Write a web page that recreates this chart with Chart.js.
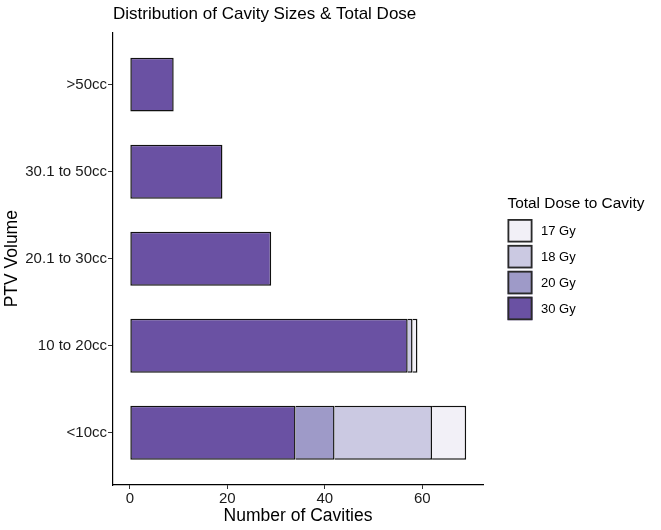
<!DOCTYPE html>
<html>
<head>
<meta charset="utf-8">
<script src="https://cdn.jsdelivr.net/npm/chart.js@4"></script>
<style>
  html, body { margin: 0; padding: 0; background: #ffffff; }
  #wrap { width: 661px; height: 530px; }
</style>
</head>
<body>
<div id="wrap"><canvas id="c" width="661" height="530"></canvas></div>
<script>
// Categories, bottom to top
const categories = ['<10cc', '10 to 20cc', '20.1 to 30cc', '30.1 to 50cc', '>50cc'];
// Series (Total Dose to Cavity), counts per category
const dose30 = [34, 57, 29, 19, 9];
const dose20 = [8, 0, 0, 0, 0];
const dose18 = [20, 1, 0, 0, 0];
const dose17 = [7, 1, 0, 0, 0];
const xTicks = [0, 20, 40, 60];
const seriesLabels = ['30 Gy', '20 Gy', '18 Gy', '17 Gy'];
const seriesColors = ['#6A51A3', '#9E9AC8', '#CBC9E2', '#F2F0F7'];

const seriesValues = [dose30, dose20, dose18, dose17];
const toPoints = vals => vals.map((v, i) => ({ x: v, y: i })).filter(p => p.x > 0);

const datasets = seriesValues.map((vals, k) => ({
  label: seriesLabels[k],
  data: toPoints(vals),
  backgroundColor: seriesColors[k],
  borderColor: '#111111',
  borderWidth: 1.5,
  borderSkipped: k === 0 ? false : 'start',
  categoryPercentage: 1,
  barPercentage: 0.62
}));

const FONT = 'Liberation Sans, Arial, Helvetica, sans-serif';

const legendPlugin = {
  id: 'customLegend',
  afterDraw(chart) {
    const ctx = chart.ctx;
    ctx.save();
    ctx.fillStyle = '#000000';
    ctx.font = '15.4px ' + FONT;
    ctx.textBaseline = 'middle';
    ctx.textAlign = 'left';
    ctx.fillText('Total Dose to Cavity', 507.5, 204);
    const order = [3, 2, 1, 0];
    const boxX = 507.5, boxTop = 219, w = 25, h = 23.5, step = 25.9;
    order.forEach((k, j) => {
      const y = boxTop + j * step;
      ctx.fillStyle = seriesColors[k];
      ctx.fillRect(boxX, y, w, h);
      ctx.strokeStyle = '#2a2a2a';
      ctx.lineWidth = 1.8;
      ctx.strokeRect(boxX + 0.9, y + 0.9, w - 1.8, h - 1.8);
      ctx.fillStyle = '#000000';
      ctx.font = '13px ' + FONT;
      ctx.fillText(seriesLabels[k], 541, y + h / 2 + 0.5);
    });
    ctx.restore();
  }
};

new Chart(document.getElementById('c'), {
  type: 'bar',
  data: { datasets },
  plugins: [legendPlugin],
  options: {
    indexAxis: 'y',
    responsive: false,
    animation: false,
    devicePixelRatio: 1,
    layout: { padding: { left: 0, right: 178, top: 0, bottom: 0 } },
    plugins: {
      legend: { display: false },
      tooltip: { enabled: false },
      title: {
        display: true,
        text: 'Distribution of Cavity Sizes & Total Dose',
        align: 'start',
        fullSize: false,
        color: '#000000',
        font: { family: FONT, size: 17, weight: 'normal' },
        padding: { top: 4, bottom: 8 }
      }
    },
    scales: {
      x: {
        type: 'linear',
        stacked: true,
        offset: false,
        min: -3.45,
        max: 72.45,
        afterFit(scale) { scale.height = 45; },
        afterBuildTicks(scale) { scale.ticks = xTicks.map(v => ({ value: v })); },
        ticks: {
          includeBounds: false,
          color: '#1a1a1a',
          font: { family: FONT, size: 15 },
          padding: 1
        },
        grid: { display: true, offset: false, drawOnChartArea: false, drawTicks: true, tickLength: 4, color: '#333333', lineWidth: 1 },
        border: { display: true, color: '#000000', width: 1.2 },
        title: {
          display: true,
          text: 'Number of Cavities',
          color: '#000000',
          font: { family: FONT, size: 17.5 },
          padding: { top: 0, bottom: 3 }
        }
      },
      y: {
        type: 'linear',
        stacked: true,
        offset: false,
        min: -0.6,
        max: 4.6,
        afterFit(scale) { scale.width = 113; },
        afterBuildTicks(scale) { scale.ticks = categories.map((c, i) => ({ value: i })); },
        ticks: {
          includeBounds: false,
          stepSize: 1,
          color: '#1a1a1a',
          font: { family: FONT, size: 15 },
          padding: 1,
          callback: v => categories[v]
        },
        grid: { display: true, offset: false, drawOnChartArea: false, drawTicks: true, tickLength: 5, color: '#333333', lineWidth: 1 },
        border: { display: true, color: '#000000', width: 1.2 },
        title: {
          display: true,
          text: 'PTV Volume',
          color: '#000000',
          font: { family: FONT, size: 17.5 },
          padding: { top: 2, bottom: 2 }
        }
      }
    }
  }
});
</script>
</body>
</html>
